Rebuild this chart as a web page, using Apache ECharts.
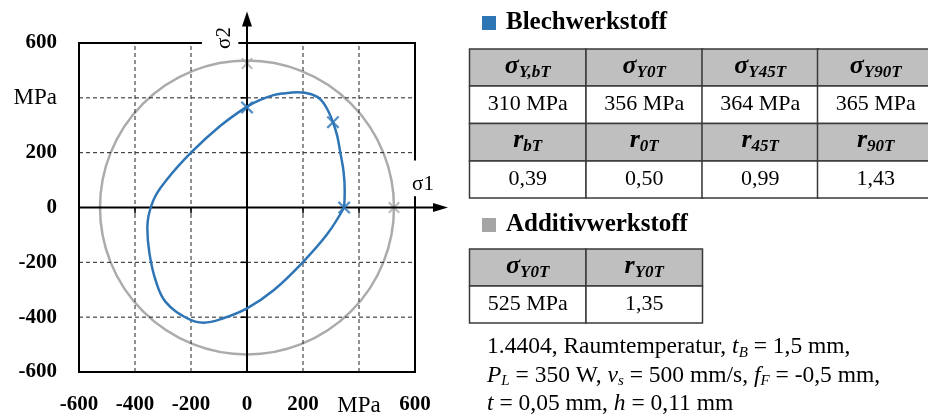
<!DOCTYPE html>
<html>
<head>
<meta charset="utf-8">
<script src="https://cdn.jsdelivr.net/npm/echarts@6/dist/echarts.min.js"></script>
<style>
html, body { margin: 0; padding: 0; background: #fff; }
#chart { width: 928px; height: 417px; }
</style>
</head>
<body>
<div id="chart"></div>
<script>
// Fließorte: Blechwerkstoff vs. Additivwerkstoff
const tickValues = [-600, -400, -200, 0, 200, 400, 600]
const xTickLabels = ['-600', '-400', '-200', '0', '200', 'MPa', '600']
const yTickLabels = ['-600', '-400', '-200', '0', '200', 'MPa', '600']

// blauer Fließort (sigma1, sigma2) in MPa
const blechS1 = [347, 349, 345, 333, 322, 307, 290, 265, 230, 180, 130, 95, 45, 0, -95, -200, -286, -335, -356, -348, -325, -290, -214, -155, -90, 0, 95, 199, 286, 347]
const blechS2 = [0, 60, 130, 202, 262, 311, 352, 392, 413, 420, 416, 410, 392, 368, 298, 200, 102, 25, -74, -170, -270, -345, -404, -420, -406, -368, -302, -200, -98, 0]
const blechMarkS1 = [0, 307, 347]
const blechMarkS2 = [365, 311, 0]

// grauer Fließort (Kreis)
const additivRadius = [525]
const additivMarkS1 = [0, 525]
const additivMarkS2 = [525, 0]

// Tabellen
const blechSigmaSub = ['Y,bT', 'Y0T', 'Y45T', 'Y90T']
const blechSigmaVal = ['310 MPa', '356 MPa', '364 MPa', '365 MPa']
const blechRSub = ['bT', '0T', '45T', '90T']
const blechRVal = ['0,39', '0,50', '0,99', '1,43']
const additivHead = [['σ', 'Y0T'], ['r', 'Y0T']]
const additivVal = ['525 MPa', '1,35']

const noteLines = [
    '1.4404, Raumtemperatur, {i|t}{s|B} = 1,5 mm,',
    '{i|P}{s|L} = 350 W, {i|v}{s|s} = 500 mm/s, {i|f}{s|F} = -0,5 mm,',
    '{i|t} = 0,05 mm, {i|h} = 0,11 mm',
]

const BLUE = '#2e75b6'
const GREY = '#ababab'
const SERIF = '"Liberation Serif", "DejaVu Serif", serif'
const CROSS = 'path://M0,1.5L1.5,0L12,10.5L10.5,12Z M10.5,0L12,1.5L1.5,12L0,10.5Z'

const labelFmt = (labels) => (v) => {
    const t = labels[tickValues.indexOf(v)]
    return t === 'MPa' ? '{u|MPa}' : '{n|' + t + '}'
}
const labelRich = {
    n: {fontFamily: SERIF, fontSize: 21, fontWeight: 'bold', color: '#000'},
    u: {fontFamily: SERIF, fontSize: 23, color: '#000'},
}

const chart = echarts.init(document.getElementById('chart'))

chart.setOption({
    animation: false,
    grid: {left: 79, right: 513, top: 43, bottom: 41},
    xAxis: {
        type: 'value', min: -600, max: 600, interval: 200,
        axisLine: {show: false}, axisTick: {show: false}, splitLine: {show: false},
        axisLabel: {margin: 22, formatter: labelFmt(xTickLabels), rich: labelRich},
    },
    yAxis: {
        type: 'value', min: -600, max: 600, interval: 200,
        axisLine: {show: false}, axisTick: {show: false}, splitLine: {show: false},
        axisLabel: {margin: 22, formatter: labelFmt(yTickLabels), rich: labelRich},
    },
    series: [
        {
            type: 'custom',
            z: 1,
            data: [[0, 0, additivRadius[0]]],
            renderItem: (params, api) => {
                const c = api.coord([api.value(0), api.value(1)])
                const r = api.size([api.value(2), 0])[0]
                return {
                    type: 'circle',
                    shape: {cx: c[0], cy: c[1], r},
                    style: {fill: 'none', stroke: GREY, lineWidth: 2.5},
                }
            },
        },
        {
            type: 'scatter',
            z: 2,
            symbol: CROSS,
            symbolSize: 12,
            itemStyle: {color: GREY},
            data: additivMarkS1.map((x, i) => [x, additivMarkS2[i]]),
        },
        {
            type: 'line',
            z: 4,
            smooth: 0.4,
            showSymbol: false,
            lineStyle: {color: BLUE, width: 2.5},
            data: blechS1.map((x, i) => [x, blechS2[i]]),
        },
        {
            type: 'scatter',
            z: 5,
            symbol: CROSS,
            symbolSize: 13,
            itemStyle: {color: BLUE},
            data: blechMarkS1.map((x, i) => [x, blechMarkS2[i]]),
        },
    ],
})

const P = (a, b) => chart.convertToPixel({gridIndex: 0}, [a, b])
const g = []
const line = (pts, extra) => g.push({
    type: 'polyline', z: 3, silent: true,
    shape: {points: pts},
    style: Object.assign({stroke: '#000', lineWidth: 2, fill: 'none'}, extra || {}),
})
const text = (x, y, str, style, rotation) => g.push({
    type: 'text', x, y, rotation: rotation || 0, z: 6, silent: true,
    style: Object.assign({
        text: str, fontFamily: SERIF, fill: '#000',
        align: 'center', verticalAlign: 'middle', textAlign: 'center', textVerticalAlign: 'middle',
    }, style),
})

// gestricheltes Raster
const inner = tickValues.filter((v) => Math.abs(v) !== 600 && v !== 0)
inner.forEach((v) => {
    line([P(v, -600), P(v, 600)], {lineWidth: 1, lineDash: [4, 3], stroke: '#222'})
    line([P(-600, v), P(600, v)], {lineWidth: 1, lineDash: [4, 3], stroke: '#222'})
})

// Rahmen mit Lücken für die Achsbeschriftung
line([P(-161, 600), P(-600, 600), P(-600, -600), P(600, -600), P(600, 41)])
line([P(-31, 600), P(600, 600), P(600, 171)])

// Achsen mit Pfeilen
const o = P(0, 0)
line([P(-600, 0), [440, o[1]]])
line([P(0, -600), [o[0], 20]])
g.push({type: 'polygon', z: 3, shape: {points: [[448, o[1]], [433, o[1] - 4.5], [433, o[1] + 4.5]]}, style: {fill: '#000'}})
g.push({type: 'polygon', z: 3, shape: {points: [[o[0], 11.5], [o[0] - 5, 26.5], [o[0] + 5, 26.5]]}, style: {fill: '#000'}})
inner.forEach((v) => {
    const px = P(v, 0)
    const py = P(0, v)
    line([[px[0], o[1]], [px[0], o[1] + 6]], {lineWidth: 1.5})
    line([[o[0] - 6, py[1]], [o[0], py[1]]], {lineWidth: 1.5})
})
text(423, 184, 'σ1', {fontSize: 21})
text(224, 38, 'σ2', {fontSize: 21}, Math.PI / 2)

// rechte Seite: Legende + Tabellen
const headRich = {
    g: {fontFamily: SERIF, fontSize: 26, fontWeight: 'bold', fontStyle: 'italic', lineHeight: 30, verticalAlign: 'middle'},
    s: {fontFamily: SERIF, fontSize: 17, fontWeight: 'bold', fontStyle: 'italic', lineHeight: 17, verticalAlign: 'bottom'},
}
const cell = (x, y, w, h, fill) => g.push({
    type: 'rect', z: 5, silent: true,
    shape: {x, y, width: w, height: h},
    style: {fill, stroke: '#3a3a3a', lineWidth: 1.5},
})
const colX = [469.5, 586, 702, 817.5]
const colW = 116.5
const rowH = 37

g.push({type: 'rect', shape: {x: 482, y: 16, width: 14, height: 14}, style: {fill: BLUE}})
text(506, 23, 'Blechwerkstoff', {fontSize: 25, fontWeight: 'bold', align: 'left', textAlign: 'left'})
const t1Rows = [49, 86, 123.5, 161]
colX.forEach((x, i) => {
    cell(x, t1Rows[0], colW, rowH, '#bfbfbf')
    cell(x, t1Rows[1], colW, rowH + 0.5, '#fff')
    cell(x, t1Rows[2], colW, rowH + 0.5, '#bfbfbf')
    cell(x, t1Rows[3], colW, rowH, '#fff')
    const cx = x + colW / 2
    text(cx, t1Rows[0] + 17, '{g|σ}{s|' + blechSigmaSub[i] + '}', {rich: headRich})
    text(cx, t1Rows[1] + 18, blechSigmaVal[i], {fontSize: 22})
    text(cx, t1Rows[2] + 17, '{g|r}{s|' + blechRSub[i] + '}', {rich: headRich})
    text(cx, t1Rows[3] + 18, blechRVal[i], {fontSize: 22})
})

g.push({type: 'rect', shape: {x: 482, y: 218, width: 14, height: 14}, style: {fill: '#a5a5a5'}})
text(506, 225, 'Additivwerkstoff', {fontSize: 25, fontWeight: 'bold', align: 'left', textAlign: 'left'})
const t2Rows = [249, 286]
additivHead.forEach((h, i) => {
    const x = colX[i]
    cell(x, t2Rows[0], colW, rowH, '#bfbfbf')
    cell(x, t2Rows[1], colW, rowH, '#fff')
    text(x + colW / 2, t2Rows[0] + 17, '{g|' + h[0] + '}{s|' + h[1] + '}', {rich: headRich})
    text(x + colW / 2, t2Rows[1] + 18, additivVal[i], {fontSize: 22})
})

const noteRich = {
    i: {fontFamily: SERIF, fontSize: 23.5, fontStyle: 'italic', lineHeight: 27, verticalAlign: 'middle'},
    s: {fontFamily: SERIF, fontSize: 15, fontStyle: 'italic', lineHeight: 15, verticalAlign: 'bottom'},
}
noteLines.forEach((s, i) => {
    text(487, 347 + i * 28.5, s, {fontSize: 23.5, lineHeight: 27, align: 'left', textAlign: 'left', rich: noteRich})
})

chart.setOption({graphic: {elements: g}})
</script>
</body>
</html>
